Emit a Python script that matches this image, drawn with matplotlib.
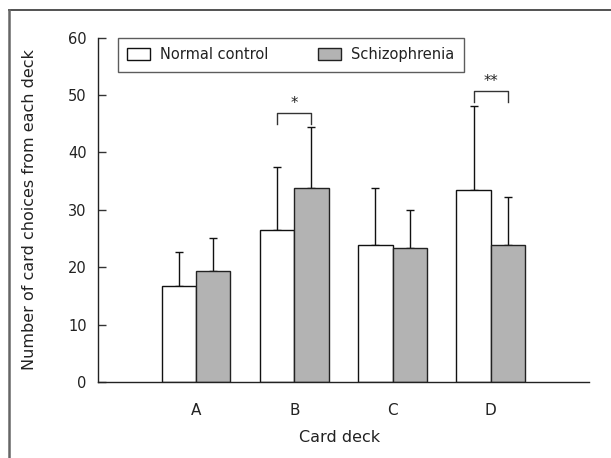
import matplotlib
matplotlib.use('Agg')
import matplotlib.pyplot as plt
from matplotlib.lines import Line2D
import numpy as np

# values
decks = ['A', 'B', 'C', 'D']
normal_mean = [16.7, 26.5, 23.8, 33.5]
normal_sd = [6.0, 11.0, 9.95, 14.5]
schizo_mean = [19.3, 33.75, 23.4, 23.8]
schizo_sd = [5.8, 10.75, 6.6, 8.5]
series_names = ['Normal control', 'Schizophrenia']
yticks = [0, 10, 20, 30, 40, 50, 60]

# significance brackets: deck index, bracket height, leg bottom, label
sig_deck = [1, 3]
sig_top = [46.9, 50.7]
sig_leg = [45.0, 48.8]
sig_label = ['*', '**']

plt.rcParams['font.family'] = 'DejaVu Sans'
txt = '#222222'

fig = plt.figure(figsize=(6.11, 4.58), dpi=100)
ax = fig.add_axes([0.16, 0.166, 0.804, 0.752])

x = np.arange(len(decks))
w = 0.35

b1 = ax.bar(x - w / 2, normal_mean, w, color='white', edgecolor='#111111',
            linewidth=1.0, zorder=2)
b2 = ax.bar(x + w / 2, schizo_mean, w, color='#b3b3b3', edgecolor='#222222',
            linewidth=1.0, zorder=2)

# upper error bars only
ax.errorbar(x - w / 2, normal_mean, yerr=[np.zeros(4), normal_sd], fmt='none',
            ecolor='#111111', elinewidth=1.0, capsize=2.8, capthick=1.0, zorder=1)
ax.errorbar(x + w / 2, schizo_mean, yerr=[np.zeros(4), schizo_sd], fmt='none',
            ecolor='#111111', elinewidth=1.0, capsize=2.8, capthick=1.0, zorder=1)

# brackets
for i, top, leg, lab in zip(sig_deck, sig_top, sig_leg, sig_label):
    xl, xr = i - w / 2, i + w / 2
    ax.plot([xl, xl, xr, xr], [leg, top, top, leg], color='#333333', lw=1.0)
    ax.text(i, top + 0.3, lab, ha='center', va='bottom', fontsize=10.5, color=txt)

ax.set_xlim(-1, 4)
ax.set_ylim(0, 60)
ax.set_yticks(yticks)
ax.set_xticks(x)
ax.set_xticklabels(decks)
ax.tick_params(axis='x', length=0, pad=15, labelsize=11, labelcolor=txt)
ax.tick_params(axis='y', direction='in', length=6, width=1, pad=8,
               labelsize=10.5, labelcolor=txt, color='#333333')

for s in ['top', 'right']:
    ax.spines[s].set_visible(False)
for s in ['left', 'bottom']:
    ax.spines[s].set_color('#222222')
    ax.spines[s].set_linewidth(1.0)

ax.set_ylabel('Number of card choices from each deck', fontsize=11.5, color=txt)
ax.yaxis.set_label_coords(-0.123, 0.5)
ax.set_xlabel('Card deck', fontsize=11.5, color=txt)
ax.xaxis.set_label_coords(0.493, -0.14)

leg = ax.legend([b1, b2], series_names, loc='upper left',
                bbox_to_anchor=(0.041, 0.9, 0.704, 0.1), mode='expand',
                ncol=2, fontsize=10.5,
                frameon=True, fancybox=False, edgecolor='#333333',
                handlelength=1.55, handleheight=0.95, handletextpad=0.7,
                columnspacing=2.2, borderpad=0.65, borderaxespad=0)
leg.get_frame().set_linewidth(1.0)
for t in leg.get_texts():
    t.set_color(txt)

# open frame around the figure (top and left only)
fig.add_artist(Line2D([0.0147, 1.0], [0.978, 0.978], transform=fig.transFigure,
                      color='#444444', lw=1.3))
fig.add_artist(Line2D([0.0147, 0.0147], [0.0, 0.978], transform=fig.transFigure,
                      color='#666666', lw=1.8))

fig.savefig('out.png', dpi=100)
